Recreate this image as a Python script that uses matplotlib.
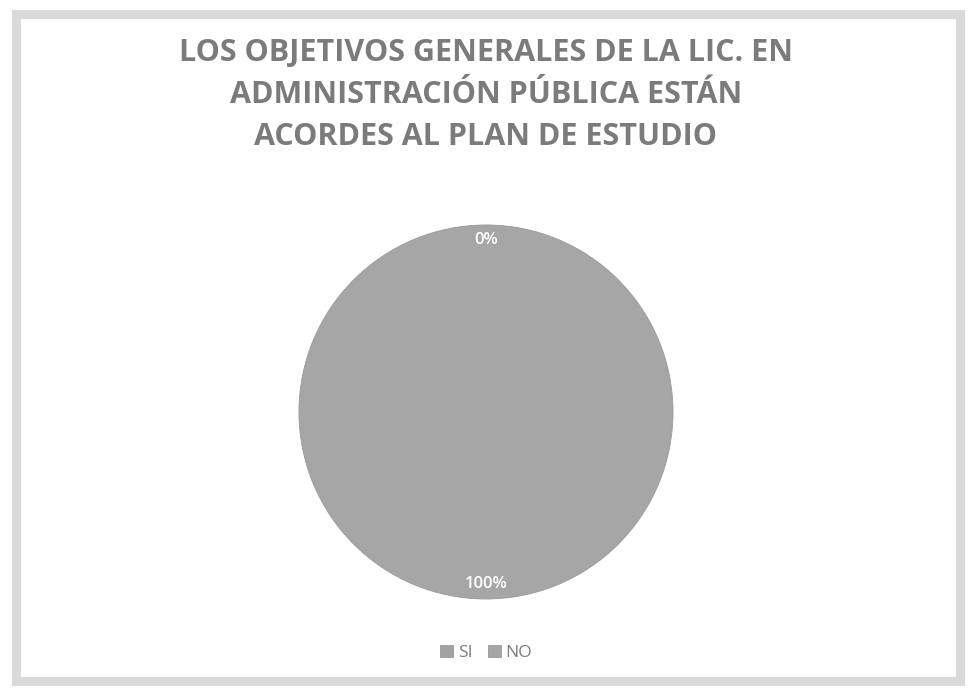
import matplotlib.pyplot as plt
from matplotlib.patches import Rectangle

titulo = 'LOS OBJETIVOS GENERALES DE LA LIC. EN\nADMINISTRACIÓN PÚBLICA ESTÁN\nACORDES AL PLAN DE ESTUDIO'
categorias = ['SI', 'NO']
valores = [0, 100]
colores = ['#a3a3a3', '#a6a6a6']

plt.rcParams['font.family'] = ['Open Sans', 'DejaVu Sans']

fig = plt.figure(figsize=(9.7, 6.93), dpi=100)
fig.patch.set_facecolor('white')

# marco gris alrededor del grafico
fig.patches.append(Rectangle((16 / 970, 12 / 693), 944 / 970, 667 / 693,
                             transform=fig.transFigure, fill=False,
                             edgecolor='#dadada', linewidth=6.5))

fig.text(0.501, 0.945, titulo, ha='center', va='top', fontsize=22,
         fontweight='bold', color='#7b7b7b', linespacing=1.52)

ax = fig.add_axes([0.501 - 0.1928, 0.4055 - 0.27, 0.3856, 0.54])
wedges, texts, autotexts = ax.pie(valores, colors=colores, startangle=90,
                                  counterclock=False, autopct='%1.0f%%',
                                  pctdistance=0.92,
                                  wedgeprops={'edgecolor': '#999999', 'linewidth': 0.6},
                                  textprops={'color': 'white', 'fontsize': 12,
                                             'fontweight': 'semibold'})
ax.set_xlim(-1, 1)
ax.set_ylim(-1, 1)
ax.set_aspect('equal')

ax.legend(wedges, categorias, loc='upper center', bbox_to_anchor=(0.5, -0.08),
          ncol=2, frameon=False, handlelength=0.75, handleheight=0.75,
          handletextpad=0.25, columnspacing=0.9,
          prop={'size': 12.5}, labelcolor='#7b7b7b')

fig.savefig('out.png', dpi=100)
